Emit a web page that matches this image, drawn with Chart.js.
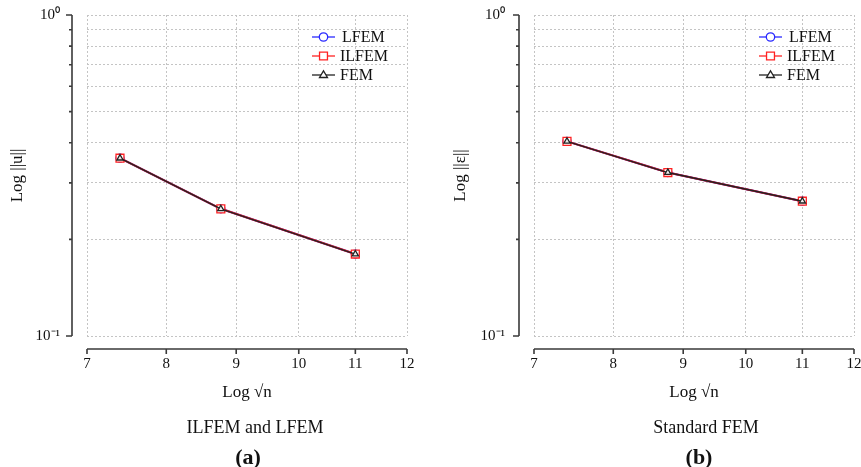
<!DOCTYPE html>
<html>
<head>
<meta charset="utf-8">
<script src="https://cdn.jsdelivr.net/npm/chart.js@4.4.0/dist/chart.umd.min.js"></script>
<style>
  html, body { margin: 0; padding: 0; background: #fff; overflow: hidden; }
  body { width: 861px; height: 467px; position: relative; font-family: "Liberation Serif", "Times New Roman", serif; color: #111; }
  canvas { position: absolute; top: 0; }
  #chartA { left: 0; }
  #chartB { left: 430px; }
  .cap { position: absolute; transform: translateX(-50%); white-space: nowrap; line-height: 1; }
  .sub { font-size: 18px; top: 418px; }
  .tag { font-size: 22px; font-weight: bold; top: 446px; }
</style>
</head>
<body>
<canvas id="chartA" width="430" height="467"></canvas>
<canvas id="chartB" width="450" height="467"></canvas>
<div class="cap sub" style="left:255px">ILFEM and LFEM</div>
<div class="cap tag" style="left:248px">(a)</div>
<div class="cap sub" style="left:706px">Standard FEM</div>
<div class="cap tag" style="left:699px">(b)</div>
<script>
// x positions (Log sqrt(n)) and axis ticks
const xValues = [7.4, 8.77, 11.0];
const xTicks = [7, 8, 9, 10, 11, 12];
const yTicks = [0.1, 0.2, 0.3, 0.4, 0.5, 0.6, 0.7, 0.8, 0.9, 1];
const seriesNames = ['LFEM', 'ILFEM', 'FEM'];

// panel (a): ||u||
const uLFEM  = [0.358, 0.249, 0.180];
const uILFEM = [0.358, 0.249, 0.180];
const uFEM   = [0.358, 0.249, 0.180];

// panel (b): ||eps||
const eLFEM  = [0.404, 0.323, 0.263];
const eILFEM = [0.404, 0.323, 0.263];
const eFEM   = [0.404, 0.323, 0.263];

const colors = ['#2a2aff', '#ff2222', '#222222'];
const styles = ['circle', 'rect', 'triangle'];
const radii = [4, 5.6, 3.6];
const FONT = '"Liberation Serif", "Times New Roman", serif';

Chart.defaults.font.family = FONT;
Chart.defaults.color = '#111';

const SUP = { '0': '⁰', '1': '¹', '-': '⁻' };
function decadeLabel(v) {
  const lg = Math.log10(v);
  const e = Math.round(lg);
  if (Math.abs(lg - e) > 1e-6) return '';
  return '10' + String(e).split('').map(c => SUP[c] || c).join('');
}
function isDecade(v) {
  const lg = Math.log10(v);
  return Math.abs(lg - Math.round(lg)) < 1e-6;
}

function drawMarker(ctx, style, x, y, r, color) {
  ctx.save();
  ctx.strokeStyle = color;
  ctx.fillStyle = '#fff';
  ctx.lineWidth = 1.3;
  ctx.beginPath();
  if (style === 'circle') {
    ctx.arc(x, y, r, 0, Math.PI * 2);
  } else if (style === 'rect') {
    const s = r * Math.SQRT1_2;
    ctx.rect(x - s, y - s, 2 * s, 2 * s);
  } else {
    ctx.moveTo(x, y - r);
    ctx.lineTo(x + r * 0.95, y + r * 0.6);
    ctx.lineTo(x - r * 0.95, y + r * 0.6);
    ctx.closePath();
  }
  ctx.fill();
  ctx.stroke();
  ctx.restore();
}

// legend with a short line and the marker, like the original
const lineLegend = {
  id: 'lineLegend',
  afterDraw(chart) {
    const { ctx, chartArea } = chart;
    ctx.save();
    chart.data.datasets.forEach((ds, i) => {
      const y = chartArea.top + 22 + i * 19;
      const x0 = chartArea.right - 95, x1 = chartArea.right - 72;
      ctx.strokeStyle = ds.borderColor;
      ctx.lineWidth = 1.3;
      ctx.beginPath();
      ctx.moveTo(x0, y);
      ctx.lineTo(x1, y);
      ctx.stroke();
      drawMarker(ctx, ds.pointStyle, (x0 + x1) / 2, y, i === 1 ? 5.6 : 4.2, ds.borderColor);
      ctx.fillStyle = '#111';
      ctx.font = '16px ' + FONT;
      ctx.textBaseline = 'middle';
      ctx.textAlign = 'left';
      ctx.fillText(ds.label, chartArea.right - 67 + (i === 0 ? 2 : 0), y + 1);
    });
    ctx.restore();
  }
};

// axis lines set off from the plot box
const offsetAxes = {
  id: 'offsetAxes',
  afterDraw(chart) {
    const { ctx, chartArea, scales: { x, y } } = chart;
    const ax = chartArea.left - 15;
    const ay = chartArea.bottom + 13;
    ctx.save();
    ctx.strokeStyle = '#3a3a3a';
    ctx.lineWidth = 1.6;
    ctx.beginPath();
    ctx.moveTo(ax, chartArea.top);
    ctx.lineTo(ax, chartArea.bottom);
    y.ticks.forEach(t => {
      const py = y.getPixelForValue(t.value);
      const len = isDecade(t.value) ? 6 : 3;
      ctx.moveTo(ax - len, py);
      ctx.lineTo(ax, py);
    });
    ctx.moveTo(chartArea.left, ay);
    ctx.lineTo(chartArea.right, ay);
    x.ticks.forEach(t => {
      const px = x.getPixelForValue(t.value);
      ctx.moveTo(px, ay);
      ctx.lineTo(px, ay + 5);
    });
    ctx.stroke();
    ctx.restore();
  }
};

function makeChart(id, yTitle, series, yWidth, yTitlePad, yTickLen, rightPad) {
  const datasets = series.map((vals, i) => ({
    label: seriesNames[i],
    data: xValues.map((x, j) => ({ x: x, y: vals[j] })),
    borderColor: colors[i],
    backgroundColor: '#fff',
    borderWidth: i === 2 ? 1.4 : 2,
    pointStyle: styles[i],
    pointRadius: radii[i],
    pointBorderWidth: 1.3,
    pointBackgroundColor: i === 2 ? '#eee' : '#fff',
    order: 2 - i,
    tension: 0
  }));
  return new Chart(document.getElementById(id), {
    type: 'line',
    data: { datasets },
    options: {
      responsive: false,
      animation: false,
      layout: { padding: { top: 15, right: rightPad, bottom: 61, left: 0 } },
      plugins: { legend: { display: false }, tooltip: { enabled: false } },
      scales: {
        x: {
          type: 'logarithmic',
          min: 7,
          max: 12,
          afterBuildTicks: s => { s.ticks = xTicks.map(v => ({ value: v })); },
          afterFit: s => { s.height = 70; },
          grid: { color: '#c4c4c4', lineWidth: 1, drawTicks: true, tickLength: 17, tickColor: 'rgba(0,0,0,0)' },
          border: { display: false, dash: [2, 2] },
          ticks: { autoSkip: false, maxRotation: 0, padding: 2, color: '#111', font: { size: 15 }, callback: v => String(v) },
          title: { display: true, text: 'Log √n', color: '#111', font: { size: 17 }, padding: { top: 0, bottom: 3 } }
        },
        y: {
          type: 'logarithmic',
          min: 0.1,
          max: 1,
          afterBuildTicks: s => { s.ticks = yTicks.map(v => ({ value: v })); },
          afterFit: s => { s.width = yWidth; },
          grid: { color: '#c4c4c4', lineWidth: 1, drawTicks: true, tickLength: yTickLen, tickColor: 'rgba(0,0,0,0)' },
          border: { display: false, dash: [2, 2] },
          ticks: { autoSkip: false, padding: 2, color: '#111', font: { size: 15 }, callback: v => decadeLabel(v) },
          title: { display: true, text: yTitle, color: '#111', font: { size: 17 }, padding: { top: yTitlePad, bottom: 0 } }
        }
      }
    },
    plugins: [offsetAxes, lineLegend]
  });
}

makeChart('chartA', 'Log ||u||', [uLFEM, uILFEM, uFEM], 87, 7, 25, 23);
makeChart('chartB', 'Log ||ε||', [eLFEM, eILFEM, eFEM], 104, 20, 27, 26);
</script>
</body>
</html>
